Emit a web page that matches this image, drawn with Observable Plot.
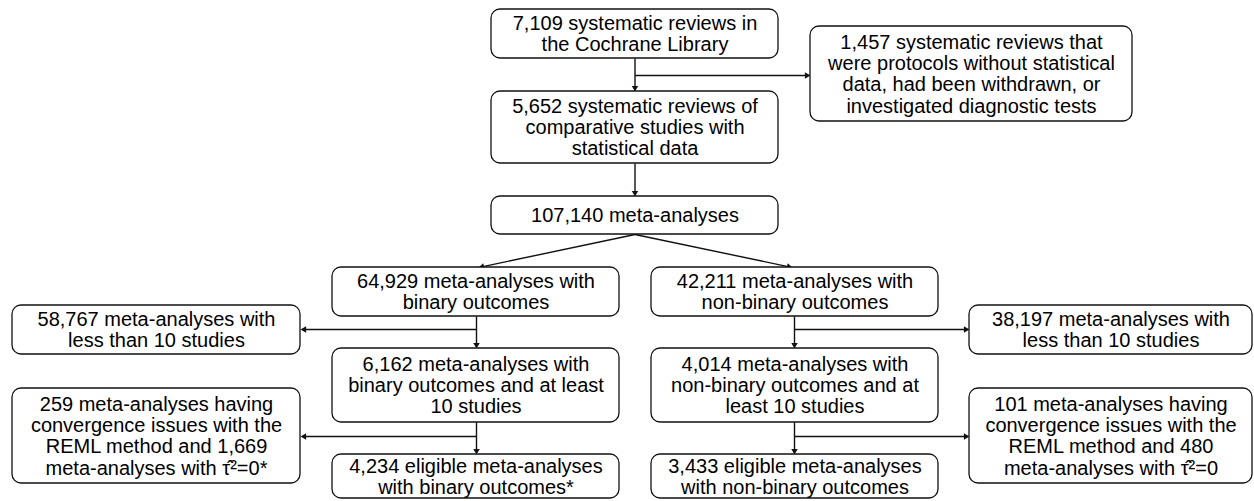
<!DOCTYPE html>
<html>
<head>
<meta charset="utf-8">
<script src="https://cdn.jsdelivr.net/npm/d3@7"></script>
<script src="https://cdn.jsdelivr.net/npm/@observablehq/plot@0.6"></script>
<style>
  html, body { margin: 0; padding: 0; background: #fff; }
  #chart svg { display: block; }
</style>
</head>
<body>
<div id="chart"></div>
<script>
// ---- Data: box labels (the counts in the flow diagram) ----
const ids = ["start","excl1","comp","ma","bin","nbin","excl2","excl3","bin10","nbin10","excl4","excl5","binFinal","nbinFinal"];
const labels = [
  "7,109 systematic reviews in\nthe Cochrane Library",
  "1,457 systematic reviews that\nwere protocols without statistical\ndata, had been withdrawn, or\ninvestigated diagnostic tests",
  "5,652 systematic reviews of\ncomparative studies with\nstatistical data",
  "107,140 meta-analyses",
  "64,929 meta-analyses with\nbinary outcomes",
  "42,211 meta-analyses with\nnon-binary outcomes",
  "58,767 meta-analyses with\nless than 10 studies",
  "38,197 meta-analyses with\nless than 10 studies",
  "6,162 meta-analyses with\nbinary outcomes and at least\n10 studies",
  "4,014 meta-analyses with\nnon-binary outcomes and at\nleast 10 studies",
  "259 meta-analyses having\nconvergence issues with the\nREML method and 1,669\nmeta-analyses with \u03C4\u0302\u00B2=0*",
  "101 meta-analyses having\nconvergence issues with the\nREML method and 480\nmeta-analyses with \u03C4\u0302\u00B2=0",
  "4,234 eligible meta-analyses\nwith binary outcomes*",
  "3,433 eligible meta-analyses\nwith non-binary outcomes"
];

// ---- Layout (diagram geometry, in the plot's x/y units) ----
const boxX1 = [491, 810, 491, 491, 332, 651,  12, 969, 332, 651,  12, 969, 332, 651];
const boxX2 = [778,1132, 778, 778, 619, 938, 300,1252, 619, 938, 300,1252, 619, 938];
const boxY1 = [  9,  26,  91, 196, 267, 267, 305, 305, 348, 348, 388, 388, 454, 454];
const boxY2 = [ 58, 121, 163, 234, 316, 316, 354, 354, 422, 422, 483, 483, 498, 498];

const boxes = ids.map((id, i) => ({
  id, label: labels[i],
  x1: boxX1[i], x2: boxX2[i], y1: boxY1[i], y2: boxY2[i],
  cx: (boxX1[i] + boxX2[i]) / 2, cy: (boxY1[i] + boxY2[i]) / 2
}));
const B = Object.fromEntries(boxes.map(b => [b.id, b]));

// connectors: [x1, y1, x2, y2]
const colBin = 476, colNbin = 794;
const edges = [
  [B.start.cx, B.start.y2, B.comp.cx, B.comp.y1],
  [B.start.cx, 75, B.excl1.x1, 75],
  [B.comp.cx, B.comp.y2, B.ma.cx, B.ma.y1],
  [B.ma.cx, B.ma.y2, 478, B.bin.y1],
  [B.ma.cx, B.ma.y2, 792, B.nbin.y1],
  [colBin, B.bin.y2, colBin, B.bin10.y1],
  [colBin, 329, B.excl2.x2, 329],
  [colNbin, B.nbin.y2, colNbin, B.nbin10.y1],
  [colNbin, 329, B.excl3.x1, 329],
  [colBin, B.bin10.y2, colBin, B.binFinal.y1],
  [colBin, 436, B.excl4.x2, 436],
  [colNbin, B.nbin10.y2, colNbin, B.nbinFinal.y1],
  [colNbin, 436, B.excl5.x1, 436]
];

const headR = 2.4;                       // triangle symbol radius
const headH = Math.sqrt(Math.PI * headR * headR * 4 / Math.sqrt(3)) * Math.sqrt(3) / 2; // triangle height
const segs = edges.map(([x1, y1, x2, y2]) => {
  const dx = x2 - x1, dy = y2 - y1, L = Math.hypot(dx, dy);
  const ux = dx / L, uy = dy / L;
  return {
    x1, y1,
    x2: x2 - ux * headH * 0.8, y2: y2 - uy * headH * 0.8,
    hx: x2 - ux * headH * 2 / 3, hy: y2 - uy * headH * 2 / 3,
    angle: Math.atan2(dx, -dy) * 180 / Math.PI
  };
});

const ink = "#111";
const chart = Plot.plot({
  width: 1254,
  height: 501,
  margin: 0,
  x: {domain: [0, 1254], range: [0, 1254], axis: null},
  y: {domain: [0, 501], range: [0, 501], axis: null},
  style: {background: "#fff"},
  marks: [
    Plot.link(segs, {x1: "x1", y1: "y1", x2: "x2", y2: "y2", stroke: ink, strokeWidth: 1.4}),
    Plot.dot(segs, {x: "hx", y: "hy", symbol: "triangle", r: headR, rotate: "angle", fill: ink, stroke: "none"}),
    Plot.rect(boxes, {x1: "x1", x2: "x2", y1: "y1", y2: "y2", fill: "#fff", stroke: ink, strokeWidth: 1.3, rx: 9}),
    Plot.text(boxes, {x: "cx", y: "cy", text: "label", fontSize: 20, lineHeight: 1.06,
      fontFamily: "'Liberation Sans', Arial, sans-serif", fill: "#000"})
  ]
});
document.getElementById("chart").appendChild(chart);
</script>
</body>
</html>
